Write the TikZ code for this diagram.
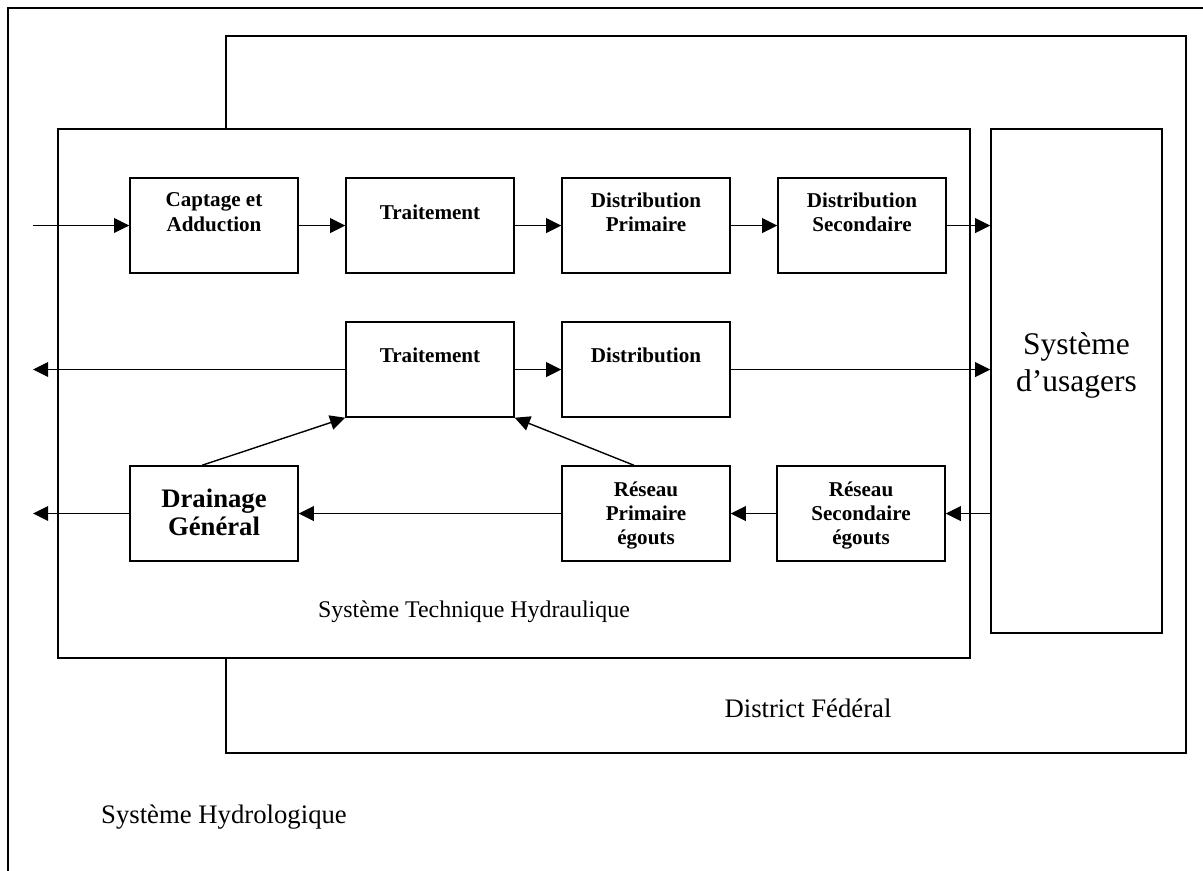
\documentclass[tikz,border=0pt]{standalone}
\usepackage{fontspec}
\setmainfont{Liberation Serif}
\usetikzlibrary{arrows.meta,positioning}
\begin{document}
\begin{tikzpicture}[x=0.025cm,y=-0.025cm]
      \tikzset{boite/.style={draw, line width=1pt, fill=white, minimum width=4.2cm, minimum height=2.375cm, inner sep=0pt}}
      \tikzset{etiq/.style={inner sep=0pt, align=center, font=\bfseries\fontsize{15}{17.5}\selectfont}}
      \tikzset{cadre/.style={draw, line width=1pt}}
      \tikzset{titre/.style={inner sep=0pt, anchor=base, font=\fontsize{19}{22}\selectfont}}
      \tikzset{fleche/.style={-{Triangle[length=0.38cm,width=0.37cm]}, line width=1pt}}
      \useasboundingbox (0,0) rectangle (1203,870);
      \clip (0,0) rectangle (1203,870);
%% Systemes
	%Hydrologique, District, Technique
		\draw[cadre] (8,8) rectangle (1240,900);
		\draw[cadre] (226,36) rectangle (1186,753);
		\draw[cadre, fill=white] (58,129) rectangle (970,658);
		\node[titre, font=\fontsize{17}{20}\selectfont] (sth) at (474,617) {Système Technique Hydraulique};
		\node[titre] (df) at (808,717) {District Fédéral};
		\node[titre] (sh) at (224,823) {Système Hydrologique};
%% Boites
	%Eau potable
		\node[boite] (capt) at (214,225.5) {};
		\node[boite] (trait1) at (430,225.5) {};
		\node[boite] (distP) at (646,225.5) {};
		\node[boite] (distS) at (862,225.5) {};
	%Eau brute
		\node[boite] (trait2) at (430,369.5) {};
		\node[boite] (dist2) at (646,369.5) {};
	%Egouts
		\node[boite] (drain) at (214,513.5) {};
		\node[boite] (resP) at (646,513.5) {};
		\node[boite] (resS) at (861,513.5) {};
	%Usagers
		\node[draw, line width=1pt, fill=white, minimum width=4.275cm, minimum height=12.6cm] (usag) at (1076.5,381) {};
%% Textes
		\node[etiq, below=0.375cm of capt.north] (capt-t) {Captage et\\Adduction};
		\node[etiq, below=0.675cm of trait1.north] (trait1-t) {Traitement};
		\node[etiq, below=0.375cm of distP.north] (distP-t) {Distribution\\Primaire};
		\node[etiq, below=0.375cm of distS.north] (distS-t) {Distribution\\Secondaire};
		\node[etiq, below=0.65cm of trait2.north] (trait2-t) {Traitement};
		\node[etiq, below=0.65cm of dist2.north] (dist2-t) {Distribution};
		\node[etiq, font=\bfseries\fontsize{19}{20}\selectfont, below=0.575cm of drain.north] (drain-t) {Drainage\\Général};
		\node[etiq, font=\bfseries\fontsize{15}{17}\selectfont, below=0.4cm of resP.north] (resP-t) {Réseau\\Primaire\\égouts};
		\node[etiq, font=\bfseries\fontsize{15}{17}\selectfont, below=0.4cm of resS.north] (resS-t) {Réseau\\Secondaire\\égouts};
		\node[etiq, font=\fontsize{22.4}{26.3}\selectfont, below=5.1cm of usag.north] (usag-t) {Système\\d’usagers};
%Fleches
		\coordinate (entree) at (33,225.5);
		\coordinate (sortie1) at (33,369.5);
		\coordinate (sortie2) at (33,513.5);
		\draw[fleche, line width=0.7pt] (entree) -- (capt);
		\draw[fleche] (capt) -- (trait1);
		\draw[fleche] (trait1) -- (distP);
		\draw[fleche] (distP) -- (distS);
		\draw[fleche] (distS) -- (distS -| usag.west);
		\draw[fleche, line width=0.7pt] (trait2) -- (sortie1);
		\draw[fleche] (trait2) -- (dist2);
		\draw[fleche] (dist2) -- (dist2 -| usag.west);
		\draw[fleche] ([xshift=-0.3cm]drain.north) -- (trait2.south west);
		\draw[fleche] ([xshift=-0.3cm]resP.north) -- (trait2.south east);
		\draw[fleche] (usag.west |- resS) -- (resS);
		\draw[fleche] (resS) -- (resP);
		\draw[fleche] (resP) -- (drain);
		\draw[fleche] (drain) -- (sortie2);

\end{tikzpicture}
\end{document}
